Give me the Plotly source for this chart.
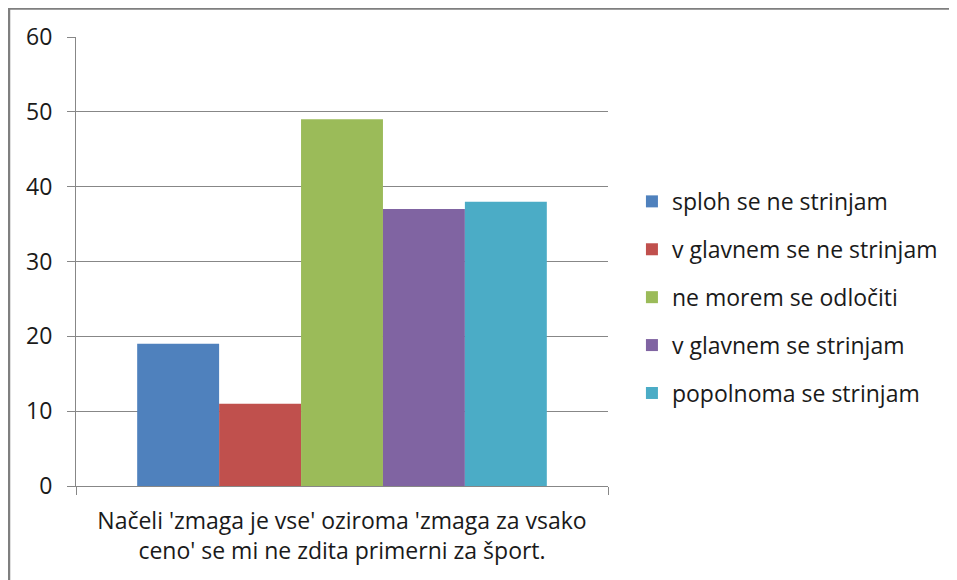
import plotly.graph_objects as go

category = ["Načeli 'zmaga je vse' oziroma 'zmaga za vsako<br>ceno' se mi ne zdita primerni za šport."]
answers = [
    "sploh se ne strinjam",
    "v glavnem se ne strinjam",
    "ne morem se odločiti",
    "v glavnem se strinjam",
    "popolnoma se strinjam",
]
counts = [19, 11, 49, 37, 38]
colors = ["#4F81BD", "#C0504D", "#9BBB59", "#8064A2", "#4BACC6"]

W, H = 957, 580
# plot area in pixels (page body adds an 8px offset)
L, R, T, B = 68, 357, 29, 102
pw, ph = W - L - R, H - T - B

fig = go.Figure()
for name, val, col in zip(answers, counts, colors):
    fig.add_trace(go.Bar(x=category, y=[val], name=name, legendgroup=name,
                         marker=dict(color=col, line=dict(width=0))))

grid = "#878787"
fig.update_layout(
    width=W, height=H,
    margin=dict(l=L, r=R, t=T, b=B, autoexpand=False),
    plot_bgcolor="white", paper_bgcolor="white",
    font=dict(family="Open Sans", size=23, color="#1a1a1a"),
    barmode="group", bargap=0.23, bargroupgap=0,
    showlegend=True,
    legend=dict(x=1.045, xanchor="left", xref="paper", y=0.42, yanchor="middle",
                font=dict(size=23), tracegroupgap=15, traceorder="grouped",
                itemwidth=30, bgcolor="rgba(0,0,0,0)"),
    xaxis=dict(showline=True, linecolor=grid, linewidth=1, ticks="outside",
               tickson="boundaries", ticklen=8, tickcolor=grid, showgrid=False,
               ticklabelstandoff=14),
    yaxis=dict(range=[0, 60], dtick=10, showgrid=True, gridcolor=grid, gridwidth=1,
               showline=True, linecolor=grid, linewidth=1, ticks="outside",
               ticklen=8, tickcolor=grid, zeroline=False, ticklabelstandoff=10),
    shapes=[dict(type="rect", xref="paper", yref="paper",
                 x0=(1 - L) / pw, x1=(962 - L) / pw,
                 y0=(T + ph - 592) / ph, y1=(T + ph - 0.5) / ph,
                 line=dict(color="#7f7f7f", width=2.5), fillcolor="rgba(0,0,0,0)",
                 layer="above")],
)

fig.write_html("out.html")
